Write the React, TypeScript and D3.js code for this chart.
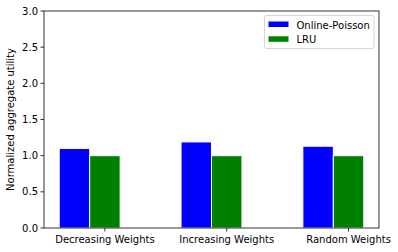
import * as d3 from "d3";
import React from "react";

// categories and series values
const categories = ["Decreasing Weights", "Increasing Weights", "Random Weights"];
const onlinePoisson = [1.1, 1.19, 1.13];
const lru = [1.0, 1.0, 1.0];
const yTicks = [0.0, 0.5, 1.0, 1.5, 2.0, 2.5, 3.0];
const seriesNames = ["Online-Poisson", "LRU"];
const seriesColors = ["#0000ff", "#008000"];

const W = 398;
const H = 252;
const margin = { left: 44, right: 19, top: 11, bottom: 24 };
const barWidth = 0.25;
const font = "'DejaVu Sans', sans-serif";

const App = () => {
  const x = d3
    .scaleLinear()
    .domain([-0.25, 2.5])
    .range([margin.left, W - margin.right]);
  const y = d3
    .scaleLinear()
    .domain([0, 3])
    .range([H - margin.bottom, margin.top]);

  const series = [onlinePoisson, lru];
  const bw = x(barWidth) - x(0);

  return (
    <svg
      width={W}
      height={H}
      style={{ position: "absolute", left: 0, top: 0, fontFamily: font }}
    >
      <rect width={W} height={H} fill="#fff" />
      {/* bars */}
      {series.map((vals, s) =>
        vals.map((v, i) => (
          <rect
            key={`${s}-${i}`}
            x={x(i + s * barWidth) - bw / 2}
            y={y(v)}
            width={bw}
            height={y(0) - y(v)}
            fill={seriesColors[s]}
            stroke="#fff"
            strokeWidth={1}
          />
        ))
      )}
      {/* frame */}
      <rect
        x={x(-0.25)}
        y={y(3)}
        width={x(2.5) - x(-0.25)}
        height={y(0) - y(3)}
        fill="none"
        stroke="#000"
        strokeWidth={0.8}
      />
      {/* y axis */}
      {yTicks.map((t) => (
        <g key={t} transform={`translate(${margin.left},${y(t)})`}>
          <line x1={-3.5} x2={0} stroke="#000" strokeWidth={0.8} />
          <text x={-6} dy="0.35em" textAnchor="end" fontSize={10} fill="#000">
            {t.toFixed(1)}
          </text>
        </g>
      ))}
      {/* x axis */}
      {categories.map((c, i) => (
        <g key={c} transform={`translate(${x(i + barWidth)},${y(0)})`}>
          <line y1={0} y2={3.5} stroke="#000" strokeWidth={0.8} />
          <text y={15} textAnchor="middle" fontSize={10} fill="#000">
            {c}
          </text>
        </g>
      ))}
      <text
        transform={`translate(14,${(y(0) + y(3)) / 2}) rotate(-90)`}
        textAnchor="middle"
        fontSize={10}
        fill="#000"
      >
        Normalized aggregate utility
      </text>
      {/* legend */}
      <g transform="translate(264.5,15.5)">
        <rect
          width={109.5}
          height={33}
          rx={2}
          fill="#fff"
          fillOpacity={0.8}
          stroke="#ccc"
          strokeWidth={0.8}
        />
        {seriesNames.map((n, i) => (
          <g key={n} transform={`translate(4,${6 + i * 14.8})`}>
            <rect width={20} height={5.5} fill={seriesColors[i]} />
            <text x={28} y={7} fontSize={10} fill="#000">
              {n}
            </text>
          </g>
        ))}
      </g>
    </svg>
  );
};

export default App;
